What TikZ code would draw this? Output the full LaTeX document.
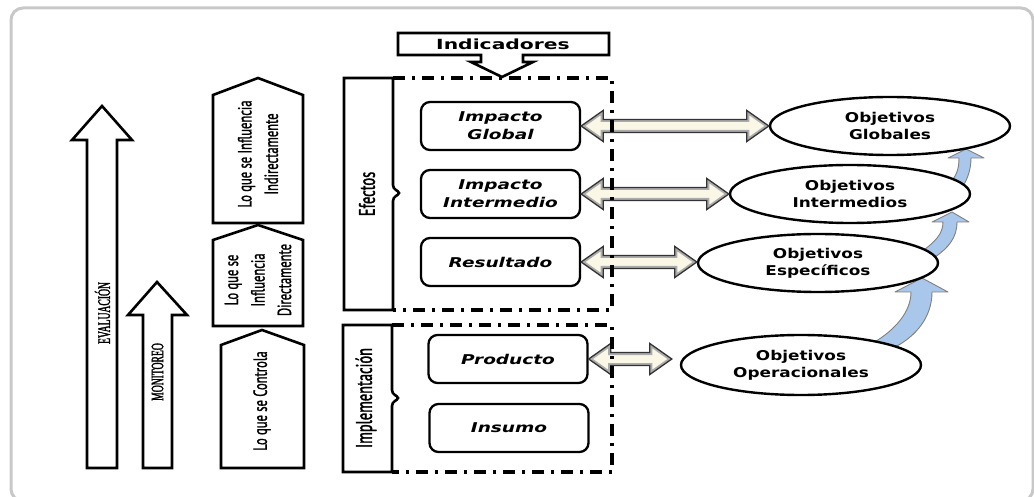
\documentclass[tikz,border=0pt]{standalone}
\usepackage{fontspec}
\usetikzlibrary{calc,shapes.geometric}

% Fonts: condensed faces for the vertical labels, wide faces for the horizontal ones
\newfontfamily\condsans[FakeStretch=0.66,FakeBold=1.2]{PT Sans}
\newfontfamily\condbig[FakeStretch=0.64,FakeBold=1.4]{PT Sans}
\newfontfamily\condserif[FakeStretch=0.55,FakeBold=1.6]{Liberation Serif}
\newfontfamily\wideA[FakeStretch=1.45]{DejaVu Sans}
\newfontfamily\wideB[FakeStretch=1.37]{DejaVu Sans}
\newfontfamily\wideC[FakeStretch=1.25]{DejaVu Sans}

\definecolor{cream}{HTML}{FBF7E6}
\definecolor{skyarrow}{HTML}{A9C7EA}
\definecolor{framegray}{HTML}{C8C8C8}

\tikzset{
  blk/.style={draw=black, line width=2.6pt, line join=miter, fill=white},
  vlabel/.style={rotate=90, align=center, inner sep=0,
    font=\condsans\fontsize{19}{26.5}\selectfont},
  arrowlabel/.style={rotate=90, inner sep=0,
    font=\condserif\fontsize{17.5}{18}\selectfont},
  sidelabel/.style={rotate=90, inner sep=0,
    font=\condbig\fontsize{22.5}{24}\selectfont},
  levelbox/.style={draw, line width=2.3pt, rounded corners=9pt, fill=white,
    minimum width=159pt, minimum height=48pt, inner sep=0, align=center,
    font=\wideB\fontsize{13.5}{18}\selectfont\bfseries\itshape},
  objective/.style={ellipse, draw, line width=2.4pt, fill=white,
    minimum width=240pt, minimum height=58pt, inner sep=0, align=center,
    font=\wideC\fontsize{13.5}{17}\selectfont\bfseries},
  dashdot frame/.style={line width=3.2pt,
    dash pattern=on 12pt off 7pt on 3pt off 7pt},
  blue arrow/.style={fill=skyarrow, draw=black!50, line width=0.9pt, line join=round},
}

% Two-headed block arrow between the points #1 and #2 (at the height of #1)
\newcommand\dblshape[3]{%
  \path[#3] let \p1=(#1), \p2=(#2) in
    (\x1,\y1) -- (\x1+22pt,\y1+15.5pt) -- (\x1+22pt,\y1+6.5pt)
    -- (\x2-22pt,\y1+6.5pt) -- (\x2-22pt,\y1+15.5pt) -- (\x2,\y1)
    -- (\x2-22pt,\y1-15.5pt) -- (\x2-22pt,\y1-6.5pt)
    -- (\x1+22pt,\y1-6.5pt) -- (\x1+22pt,\y1-15.5pt) -- cycle;}
\newcommand\linkarrow[2]{%
  \dblshape{#1}{#2}{fill=cream}
  \begin{scope}
    \dblshape{#1}{#2}{clip}
    \dblshape{#1}{#2}{draw=gray!65, line width=5pt}
  \end{scope}
  \dblshape{#1}{#2}{draw=black!80, line width=1.3pt, line join=miter}}

\begin{document}
\begin{tikzpicture}[x=1pt, y=-1pt]
\useasboundingbox (0,0) rectangle (1034,497);

% outer frame
\draw[framegray, line width=3pt, rounded corners=12pt] (11,8) rectangle (1033,501);

% EVALUACION and MONITOREO block arrows
\draw[blk] (87,468) -- (87,140) -- (72,140) -- (102,106) -- (132,140) -- (117,140) -- (117,468) -- cycle;
\node[arrowlabel] (evaluacion) at (102.5,313) {EVALUACIÓN};
\draw[blk] (143,468) -- (143,315) -- (128,315) -- (157,282) -- (187,315) -- (172,315) -- (172,468) -- cycle;
\node[arrowlabel] (monitoreo) at (157.5,372) {MONITOREO};

% pentagons of the levels of control
\draw[blk] (213,223) -- (213,95) -- (258,78) -- (303,95) -- (303,223) -- cycle;
\node[vlabel] (indirecta) at (258,154) {Lo que se Influencia\\Indirectamente};
\draw[blk] (213,326) -- (213,240) -- (258,225) -- (303,240) -- (303,326) -- cycle;
\node[vlabel] (directa) at (258,280) {Lo que se\\Influencia\\Directamente};
\draw[blk] (221,468) -- (221,345) -- (262,330) -- (304,345) -- (304,468) -- cycle;
\node[vlabel] (controla) at (262,401) {Lo que se Controla};

% Efectos and Implementacion bars with the brace notch
\draw[blk] (393,78) -- (344,78) -- (344,310) -- (393,310) -- (393,201)
  .. controls (393,196) and (398,196) .. (399,193)
  .. controls (398,190) and (393,190) .. (393,185) -- cycle;
\node[sidelabel] (efectos) at (367,194) {Efectos};
\draw[blk] (392,325) -- (343,325) -- (343,472) -- (392,472) -- (392,406)
  .. controls (392,401) and (397,401) .. (398,398)
  .. controls (397,395) and (392,395) .. (392,390) -- cycle;
\node[sidelabel] (implementacion) at (366,398) {Implementación};

% Indicadores callout
\draw[blk] (398,33) -- (609,33) -- (609,55) -- (523,55) -- (523,62) -- (533,62)
  -- (502,77) -- (471,62) -- (481,62) -- (481,55) -- (398,55) -- cycle;
\node[font=\wideA\fontsize{14}{16}\selectfont\bfseries] (indicadores) at (503,44) {Indicadores};

% result chain boxes
\node[levelbox] (ig) at (500.5,126) {Impacto\\Global};
\node[levelbox] (ii) at (500.5,194) {Impacto\\Intermedio};
\node[levelbox] (re) at (500.5,262) {Resultado};
\node[levelbox] (pr) at (508,359) {Producto};
\node[levelbox] (is) at (509,428) {Insumo};

% curved arrows linking the objectives
\draw[blue arrow] (873,343) .. controls (895,330) and (911,312) .. (911,292) -- (895,292)
  -- (922,278) -- (948,292) -- (932,292) .. controls (932,318) and (915,336) .. (897,346) -- cycle;
\draw[blue arrow] (921,252) .. controls (935,242) and (943,234) .. (943,222) -- (932,222)
  -- (952,212) -- (969,222) -- (957,222) .. controls (957,238) and (948,248) .. (935,257) -- cycle;
\draw[blue arrow] (947,185) .. controls (956,178) and (959,170) .. (959,158) -- (948,158)
  -- (966,149) -- (984,158) -- (971,158) .. controls (971,172) and (966,182) .. (960,191) -- cycle;

% objectives
\node[objective] (og) at (890,126) {Objetivos\\Globales};
\node[objective] (oi) at (850,194) {Objetivos\\Intermedios};
\node[objective] (oe) at (818,263) {Objetivos\\Específicos};
\node[objective, minimum height=60pt] (oo) at (801,365) {Objetivos\\Operacionales};

% links between levels and objectives
\linkarrow{ig.east}{og.west}
\linkarrow{ii.east}{oi.west}
\linkarrow{re.east}{oe.west}
\coordinate (oolink) at ($(oo.west)+(-8,0)$);
\linkarrow{pr.east}{oolink}

% dash-dot frames
\draw[dashdot frame] (393,78) -- (612,78) -- (612,310) -- (393,310);
\draw[dashdot frame] (392,325) -- (612,325) -- (612,472) -- (392,472);
\end{tikzpicture}
\end{document}
